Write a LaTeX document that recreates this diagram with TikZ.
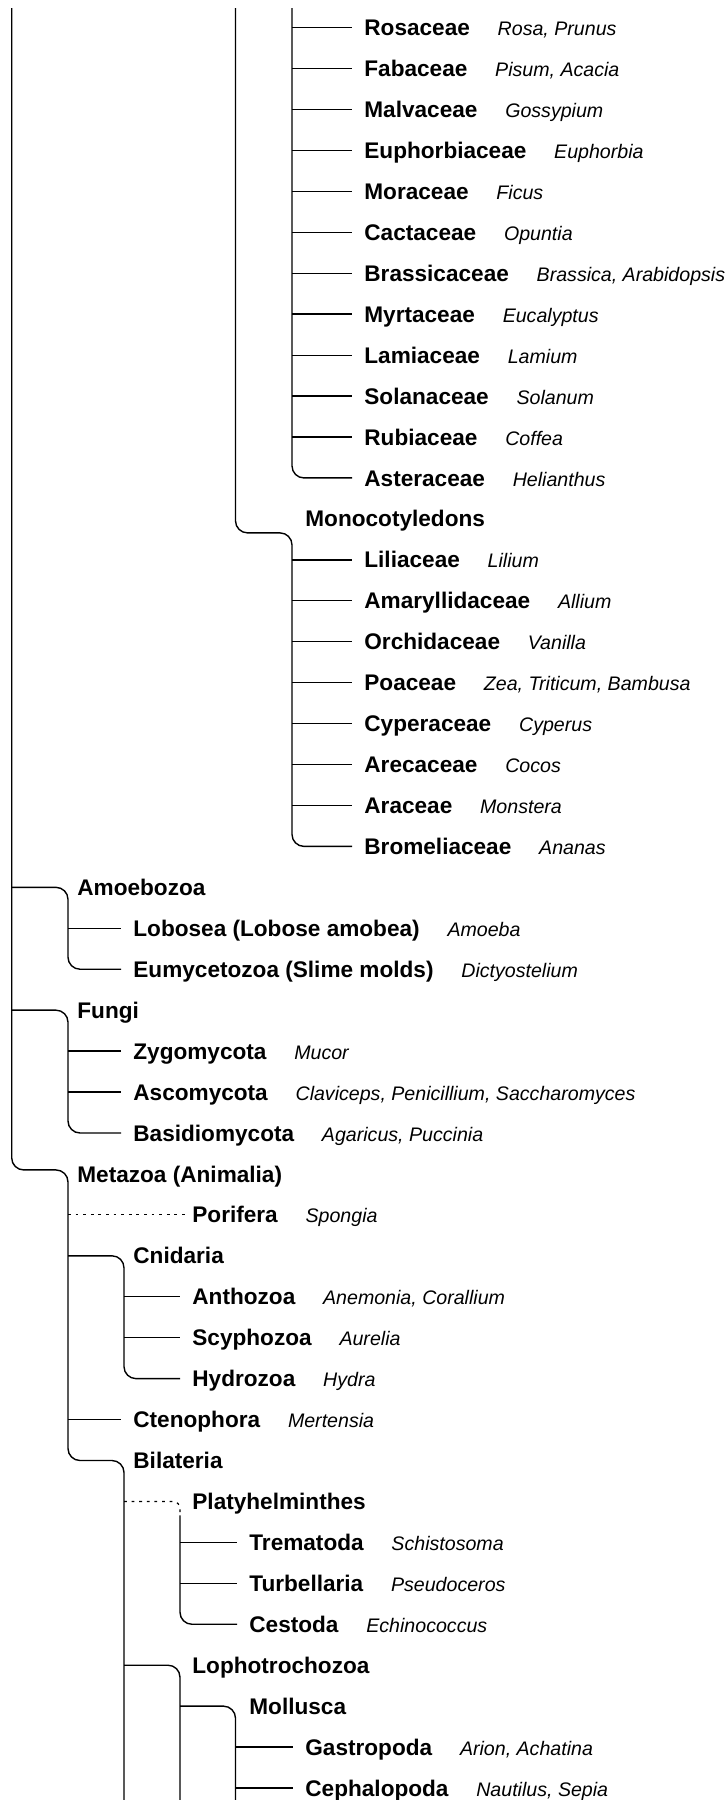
\documentclass[tikz,border=0pt]{standalone}
\usepackage{fontspec}
\setmainfont{Liberation Sans}
\usetikzlibrary{positioning, calc}

\tikzset{
  branch/.style={line width=0.7pt, rounded corners=6pt},
  thinbranch/.style={branch, line width=0.45pt},
  dashbranch/.style={branch, line width=0.6pt, dash pattern=on 1.4pt off 2.4pt},
  taxon/.style={anchor=west, inner sep=0pt, text height=8.1pt, text depth=0pt,
    font=\bfseries\fontsize{11.3}{13}\selectfont},
  genus/.style={inner sep=0pt, font=\itshape\fontsize{9.8}{12}\selectfont},
}

\begin{document}
\begin{tikzpicture}[x=0.5pt, y=-0.5pt]
  \useasboundingbox (0,0) rectangle (727,1800);
  % levels of the tree
  \foreach \k/\xv in {0/11.7, 1/68, 2/124, 3/180, 4/235.5, 5/292}
    \coordinate (v\k) at (\xv,0);
  \coordinate (top) at (0,8);
  \coordinate (bottom) at (0,1800);

  % clades without genus
  \foreach \r/\t/\name in {12/305/Monocotyledons, 21/77/Amoebozoa, 24/77/Fungi,
      28/77/Metazoa (Animalia), 30/133/Cnidaria, 35/133/Bilateria,
      36/192/Platyhelminthes, 40/192/Lophotrochozoa, 41/249/Mollusca} {
    \pgfmathsetmacro{\y}{27.6+40.94*\r}
    \node[taxon] (n\r) at (\t,\y) {\name};
  }

  % taxa with their genera
  \foreach \r/\t/\fam/\gen in {
      0/364/Rosaceae/{Rosa, Prunus}, 1/364/Fabaceae/{Pisum, Acacia},
      2/364/Malvaceae/Gossypium, 3/364/Euphorbiaceae/Euphorbia,
      4/364/Moraceae/Ficus, 5/364/Cactaceae/Opuntia,
      6/364/Brassicaceae/{Brassica, Arabidopsis}, 7/364/Myrtaceae/Eucalyptus,
      8/364/Lamiaceae/Lamium, 9/364/Solanaceae/Solanum,
      10/364/Rubiaceae/Coffea, 11/364/Asteraceae/Helianthus,
      13/364/Liliaceae/Lilium, 14/364/Amaryllidaceae/Allium,
      15/364/Orchidaceae/Vanilla, 16/364/Poaceae/{Zea, Triticum, Bambusa},
      17/364/Cyperaceae/Cyperus, 18/364/Arecaceae/Cocos,
      19/364/Araceae/Monstera, 20/364/Bromeliaceae/Ananas,
      22/133/Lobosea (Lobose amobea)/Amoeba,
      23/133/Eumycetozoa (Slime molds)/Dictyostelium,
      25/133/Zygomycota/Mucor,
      26/133/Ascomycota/{Claviceps, Penicillium, Saccharomyces},
      27/133/Basidiomycota/{Agaricus, Puccinia},
      29/192/Porifera/Spongia,
      31/192/Anthozoa/{Anemonia, Corallium}, 32/192/Scyphozoa/Aurelia,
      33/192/Hydrozoa/Hydra, 34/133/Ctenophora/Mertensia,
      37/249/Trematoda/Schistosoma, 38/249/Turbellaria/Pseudoceros,
      39/249/Cestoda/Echinococcus,
      42/305/Gastropoda/{Arion, Achatina}, 43/305/Cephalopoda/{Nautilus, Sepia}} {
    \pgfmathsetmacro{\y}{27.6+40.94*\r}
    \node[taxon] (f\r) at (\t,\y) {\fam};
    \node[genus, base right=13.5pt of f\r] (g\r) {\gen};
  }

  % dicotyledons
  \foreach \r in {0,...,7,9,10}
    \draw[branch] (v5 |- f\r.west) -- ([xshift=-6pt]f\r.west);
  \draw[thinbranch] (v5 |- f8.west) -- ([xshift=-6pt]f8.west);
  \draw[branch] (v5 |- top) -- (v5 |- f11.west) -- ([xshift=-6pt]f11.west);

  % monocotyledons
  \coordinate (monojoin) at ($(n12.west)+(0,14)$);
  \draw[branch] (v4 |- top) -- (v4 |- monojoin) -- (v5 |- monojoin)
    -- (v5 |- f20.west) -- ([xshift=-6pt]f20.west);
  \foreach \r in {13,...,19}
    \draw[branch] (v5 |- f\r.west) -- ([xshift=-6pt]f\r.west);

  % main stem down to the animals
  \coordinate (metajoin) at ($(n28.west)+(0,-4)$);
  \draw[branch] (v0 |- top) -- (v0 |- metajoin) -- (v1 |- metajoin)
    -- (v1 |- n35.west) -- (v2 |- n35.west) -- (v2 |- bottom);

  % amoebozoa and fungi
  \draw[branch] (v0 |- n21.west) -- (v1 |- n21.west) -- (v1 |- f23.west)
    -- ([xshift=-6pt]f23.west);
  \draw[branch] (v0 |- n24.west) -- (v1 |- n24.west) -- (v1 |- f27.west)
    -- ([xshift=-6pt]f27.west);
  \foreach \r in {22,25,26,34}
    \draw[branch] (v1 |- f\r.west) -- ([xshift=-6pt]f\r.west);

  % metazoa
  \draw[dashbranch] (v1 |- f29.west) -- ([xshift=-2.5pt]f29.west);
  \draw[branch] (v1 |- n30.west) -- (v2 |- n30.west) -- (v2 |- f33.west)
    -- ([xshift=-6pt]f33.west);
  \foreach \r in {31,32}
    \draw[branch] (v2 |- f\r.west) -- ([xshift=-6pt]f\r.west);

  % bilateria
  \draw[dashbranch, rounded corners=3.5pt] (v2 |- n36.west) -- (v3 |- n36.west)
    -- ($(v3 |- n36.west)+(0,11)$);
  \draw[branch] ($(v3 |- n36.west)+(0,14)$) -- (v3 |- f39.west)
    -- ([xshift=-6pt]f39.west);
  \foreach \r in {37,38}
    \draw[branch] (v3 |- f\r.west) -- ([xshift=-6pt]f\r.west);
  \draw[branch] (v2 |- n40.west) -- (v3 |- n40.west) -- (v3 |- bottom);
  \draw[branch] (v3 |- n41.west) -- (v4 |- n41.west) -- (v4 |- bottom);
  \foreach \r in {42,43}
    \draw[branch] (v4 |- f\r.west) -- ([xshift=-6pt]f\r.west);
\end{tikzpicture}
\end{document}
